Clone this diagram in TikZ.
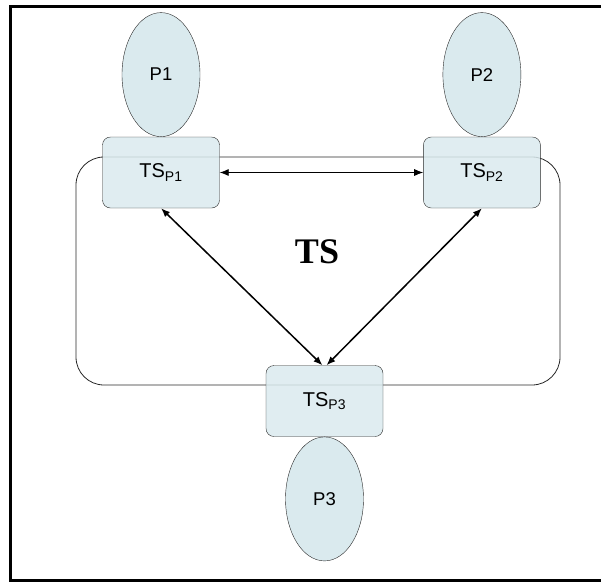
\documentclass[tikz,border=0pt]{standalone}
\usepackage{fontspec}
\setmainfont{Liberation Sans}
\newfontfamily\tsfont{Liberation Serif}
\usepackage{tikz}
\definecolor{spacefill}{RGB}{218,234,238}
\definecolor{edgegrey}{RGB}{40,40,40}
\tikzset{
    tspace/.style={rectangle,rounded corners=8pt,draw=edgegrey,fill=spacefill,fill opacity=0.85,text opacity=1,minimum width=117pt,minimum height=71pt,text centered,font=\fontsize{20}{24}\selectfont},
    process/.style={ellipse,draw=edgegrey,fill=spacefill,inner sep=0pt,minimum width=78pt,minimum height=124pt,font=\fontsize{18.5}{22}\selectfont},
    link/.style={<->,line width=0.8pt},
    biglink/.style={<->,line width=1.5pt},
}
\usetikzlibrary{shapes,arrows.meta}
\usetikzlibrary{positioning,backgrounds}

\begin{document}
\begin{tikzpicture}[>={Latex[length=9pt,width=7pt]},x=1pt,y=-1pt]
\useasboundingbox (0,0) rectangle (601,581);
\draw[line width=3pt] (601,6.5) -- (10,6.5) -- (10,580.5) -- (601,580.5);
\node[tspace](TSp1) at (161,172.5) {TS\textsubscript{P1}};
\node[tspace](TSp2) [right =203.5pt of TSp1] {TS\textsubscript{P2}};
\node[tspace](TSp3) at (324.5,401) {TS\textsubscript{P3}};
\node[process](P1) [above =0pt of TSp1] {P1};
\node[process](P2) [above =0pt of TSp2] {P2};
\node[process](P3) [below =0pt of TSp3] {P3};
\node(TS) at (317,252) {\tsfont\bfseries\fontsize{36}{40}\selectfont TS};
\begin{scope}[on background layer]
\draw[edgegrey,line width=0.8pt,rounded corners=28pt] (76,157) rectangle (560,385);
\end{scope}
\draw[link] (TSp1) -- (TSp2);
\draw[biglink] (TSp1.south) -- ([xshift=-2pt]TSp3.north);
\draw[biglink] (TSp2.south) -- ([xshift=2pt]TSp3.north);
\end{tikzpicture}
\end{document}
